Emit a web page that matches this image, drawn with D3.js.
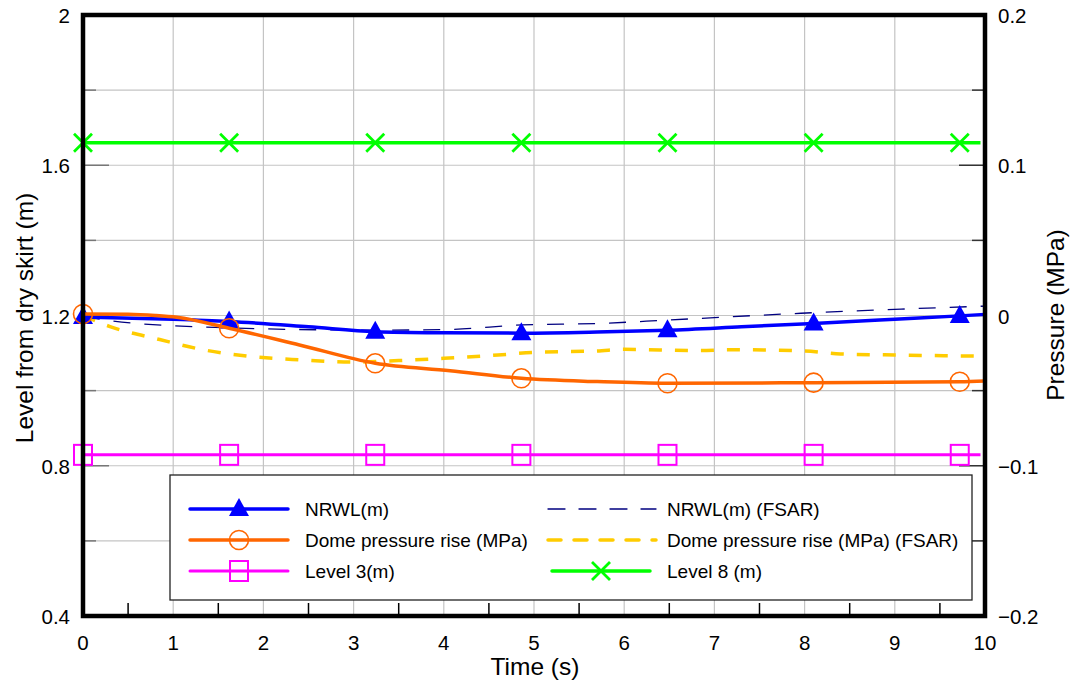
<!DOCTYPE html>
<html><head><meta charset="utf-8">
<script src="https://cdn.jsdelivr.net/npm/d3@7"></script>
<style>body{margin:0;background:#fff}svg{display:block;font-family:"Liberation Sans",Arial,sans-serif}</style>
</head><body>
<svg id="c" width="1074" height="686"></svg>
<script>
// ---- data ----
const xTicks = [0,1,2,3,4,5,6,7,8,9,10];
const leftTickLabels = [0.4,0.8,1.2,1.6,2];
const rightTickLabels = [-0.2,-0.1,0,0.1,0.2];
const markerTimes = [0,1.62,3.24,4.86,6.48,8.1,9.72];

const nrwlT = [0,1,1.62,2.5,3.24,4,4.86,5.7,6.48,7.3,8.1,9,9.72,10];
const nrwlV = [1.196,1.19,1.184,1.17,1.157,1.154,1.153,1.156,1.161,1.17,1.179,1.19,1.199,1.203];

const nrwlFsarT = [0,0.3,1.63,3.25,4.07,4.87,5.74,6.49,7.96,9.07,10];
const nrwlFsarV = [1.2,1.186,1.167,1.161,1.163,1.175,1.179,1.188,1.206,1.217,1.225];

const domeT = [0,0.5,0.8,1.04,1.62,2.4,3.24,4.07,4.86,5.7,6.48,8.1,9.72,10];
const domeV = [0.001,0.0008,0.0,-0.0012,-0.0085,-0.0196,-0.0318,-0.0367,-0.0418,-0.044,-0.0451,-0.0447,-0.0441,-0.0436];

const domeFsarT = [0,0.3,0.85,1.35,1.74,2.4,3.0,3.5,4.0,4.6,5.0,5.7,6.0,6.8,7.2,8.0,8.4,9.0,9.9];
const domeFsarV = [0,-0.0074,-0.016,-0.023,-0.0265,-0.0295,-0.031,-0.030,-0.0285,-0.0263,-0.0245,-0.0236,-0.0225,-0.0233,-0.0228,-0.0236,-0.0256,-0.0263,-0.027];

const level3T = [0,9.95], level3V = [0.829,0.829];
const level8T = [0,9.95], level8V = [1.66,1.66];

const legendItems = [
  {name:"NRWL(m)", color:"#0000ff", w:3.5, dash:null, marker:"tri"},
  {name:"NRWL(m) (FSAR)", color:"#000080", w:1.3, dash:"17,14", marker:null},
  {name:"Dome pressure rise (MPa)", color:"#ff6600", w:3.5, dash:null, marker:"circ"},
  {name:"Dome pressure rise (MPa) (FSAR)", color:"#ffcc00", w:3.5, dash:"13,13", marker:null},
  {name:"Level 3(m)", color:"#ff00ff", w:3, dash:null, marker:"sq"},
  {name:"Level 8 (m)", color:"#00ff00", w:3.5, dash:null, marker:"x"}
];

// ---- layout ----
const L=83, R=985, T=15, B=616;
const svg = d3.select("#c");
const x = d3.scaleLinear().domain([0,10]).range([L,R]);
const yL = d3.scaleLinear().domain([0.4,2]).range([B,T]);
const yR = d3.scaleLinear().domain([-0.2,0.2]).range([B,T]);

// grid
const grid = svg.append("g").attr("stroke","#c4c4c4").attr("stroke-width",1.2);
d3.range(1,10).forEach(v=>grid.append("line").attr("x1",x(v)).attr("x2",x(v)).attr("y1",T).attr("y2",B));
d3.range(0.6,1.9,0.2).forEach(v=>grid.append("line").attr("x1",L).attr("x2",R).attr("y1",yL(v)).attr("y2",yL(v)));

// inner ticks
const tk = svg.append("g");
d3.range(0.6,1.9,0.2).forEach((v,i)=>{
  const major = Math.abs(((v-0.4)/0.4)-Math.round((v-0.4)/0.4))<1e-6;
  const len = major?26:13;
  tk.append("line").attr("x1",L).attr("x2",L+len).attr("y1",yL(v)).attr("y2",yL(v)).attr("stroke","#777").attr("stroke-width",1.5);
  tk.append("line").attr("x1",R).attr("x2",R-len).attr("y1",yL(v)).attr("y2",yL(v)).attr("stroke","#333").attr("stroke-width",1.5);
});
d3.range(0.5,10,1).forEach(v=>tk.append("line").attr("x1",x(v)).attr("x2",x(v)).attr("y1",B).attr("y2",B-13).attr("stroke","#000").attr("stroke-width",1.5));

// lines
const lineL = d3.line().x(d=>x(d[0])).y(d=>yL(d[1])).curve(d3.curveMonotoneX);
const lineR = d3.line().x(d=>x(d[0])).y(d=>yR(d[1])).curve(d3.curveMonotoneX);
const zip=(a,b)=>a.map((t,i)=>[t,b[i]]);
const interp=(ts,vs,t)=>{for(let i=0;i<ts.length-1;i++){if(t>=ts[i]&&t<=ts[i+1]){const f=(t-ts[i])/(ts[i+1]-ts[i]);return vs[i]+f*(vs[i+1]-vs[i]);}}return vs[vs.length-1];};

const plot = svg.append("g");
function path(data,gen,it){
  plot.append("path").attr("d",gen(data)).attr("fill","none").attr("stroke",it.color)
   .attr("stroke-width",it.w).attr("stroke-dasharray",it.dash).attr("stroke-linejoin","round");
}
function marker(g,type,cx,cy,color){
  if(type==="tri") g.append("path").attr("d",`M${cx},${cy-11}L${cx+10},${cy+7}L${cx-10},${cy+7}Z`).attr("fill",color);
  if(type==="circ") g.append("circle").attr("cx",cx).attr("cy",cy).attr("r",9.5).attr("fill","none").attr("stroke",color).attr("stroke-width",1.6);
  if(type==="sq") g.append("rect").attr("x",cx-9).attr("y",cy-10).attr("width",18).attr("height",20).attr("fill","none").attr("stroke",color).attr("stroke-width",2);
  if(type==="x"){g.append("path").attr("d",`M${cx-9},${cy-9}L${cx+9},${cy+9}M${cx+9},${cy-9}L${cx-9},${cy+9}`).attr("stroke",color).attr("stroke-width",2.8);}
}
path(zip(level8T,level8V),lineL,legendItems[5]);
path(zip(level3T,level3V),lineL,legendItems[4]);
path(zip(domeFsarT,domeFsarV),lineR,legendItems[3]);
path(zip(nrwlFsarT,nrwlFsarV),lineL,legendItems[1]);
path(zip(nrwlT,nrwlV),lineL,legendItems[0]);
markerTimes.forEach(t=>marker(plot,"tri",x(t),yL(interp(nrwlT,nrwlV,t)),"#0000ff"));
path(zip(domeT,domeV),lineR,legendItems[2]);
markerTimes.forEach(t=>marker(plot,"circ",x(t),yR(interp(domeT,domeV,t)),"#ff6600"));
markerTimes.forEach(t=>marker(plot,"sq",x(t),yL(level3V[0]),"#ff00ff"));
markerTimes.forEach(t=>marker(plot,"x",x(t),yL(level8V[0]),"#00ff00"));

// legend
const lg = svg.append("g");
lg.append("rect").attr("x",170).attr("y",475).attr("width",802).attr("height",125).attr("fill","#fff").attr("stroke","#222").attr("stroke-width",1.3);
const rowsY=[509,540,571];
legendItems.forEach((it,i)=>{
  const col=i%2, row=Math.floor(i/2);
  const y=rowsY[row];
  const x1 = col===0?190:(it.marker?552:548), x2 = col===0?288:(it.marker?650:656);
  lg.append("line").attr("x1",x1).attr("x2",x2).attr("y1",y).attr("y2",y).attr("stroke",it.color)
    .attr("stroke-width",it.w).attr("stroke-dasharray",it.dash).attr("stroke-linecap","round");
  if(it.marker) marker(lg,it.marker,(x1+x2)/2,y,it.color);
  lg.append("text").attr("x",col===0?305:667).attr("y",y+7).attr("font-size",19).text(it.name);
});

// frame
svg.append("rect").attr("x",L).attr("y",T).attr("width",R-L).attr("height",B-T).attr("fill","none").attr("stroke","#000").attr("stroke-width",4.5);

// tick labels
const lbl = svg.append("g").attr("font-size",20.5).attr("fill","#000");
xTicks.forEach(v=>lbl.append("text").attr("x",x(v)).attr("y",650).attr("text-anchor","middle").text(d3.format("")(v)));
leftTickLabels.forEach(v=>lbl.append("text").attr("x",70).attr("y",yL(v)+8).attr("text-anchor","end").text(d3.format("")(v)));
rightTickLabels.forEach(v=>lbl.append("text").attr("x",998).attr("y",yR(v)+8).text(d3.format("")(v)));

// titles
svg.append("text").attr("x",535).attr("y",675).attr("text-anchor","middle").attr("font-size",24.5).text("Time (s)");
svg.append("text").attr("transform","translate(33,318) rotate(-90)").attr("text-anchor","middle").attr("font-size",24.5).text("Level from dry skirt (m)");
svg.append("text").attr("transform","translate(1064,315) rotate(-90)").attr("text-anchor","middle").attr("font-size",24.5).text("Pressure (MPa)");
</script>
</body></html>
